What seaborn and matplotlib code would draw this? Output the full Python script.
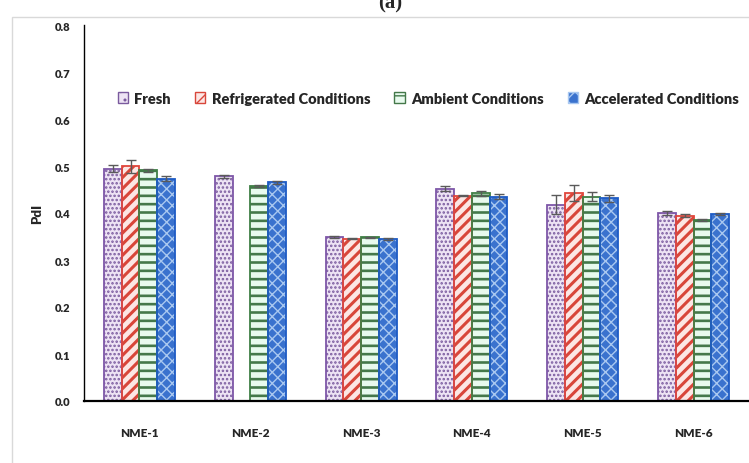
import numpy as np
import pandas as pd
import seaborn as sns
import matplotlib.pyplot as plt
from matplotlib.patches import Rectangle, Patch

# PdI values per formulation and storage condition
formulations = ["NME-1", "NME-2", "NME-3", "NME-4", "NME-5", "NME-6"]
conditions = ["Fresh", "Refrigerated Conditions", "Ambient Conditions", "Accelerated Conditions"]

pdi_fresh = [0.494, 0.478, 0.349, 0.452, 0.418, 0.400]
pdi_refrigerated = [0.499, np.nan, 0.345, 0.437, 0.442, 0.394]
pdi_ambient = [0.491, 0.457, 0.348, 0.442, 0.435, 0.385]
pdi_accelerated = [0.473, 0.465, 0.345, 0.435, 0.431, 0.398]

sd_fresh = [0.0075, 0.003, 0.002, 0.005, 0.020, 0.005]
sd_refrigerated = [0.014, np.nan, 0.001, 0.001, 0.017, 0.0035]
sd_ambient = [0.003, 0.002, 0.002, 0.005, 0.009, 0.002]
sd_accelerated = [0.005, 0.004, 0.002, 0.005, 0.007, 0.002]

yticks = [0.0, 0.1, 0.2, 0.3, 0.4, 0.5, 0.6, 0.7, 0.8]

values = [pdi_fresh, pdi_refrigerated, pdi_ambient, pdi_accelerated]
errors = [sd_fresh, sd_refrigerated, sd_ambient, sd_accelerated]

rows = []
for cond, vals, errs in zip(conditions, values, errors):
    for f, v, e in zip(formulations, vals, errs):
        if not np.isnan(v):
            rows.append({"Formulation": f, "Condition": cond, "PdI": v, "SD": e})
df = pd.DataFrame(rows)

# fill, hatch colour, outline colour, hatch pattern, hatch width
styles = {
    "Fresh": ("#EDE3F4", "#7A5A9E", "#7E57A8", "....", 1.2),
    "Refrigerated Conditions": ("#FCE6E4", "#D8463A", "#E0463C", "///", 2.2),
    "Ambient Conditions": ("#E8FAEE", "#44784A", "#3F7F45", "--", 1.9),
    "Accelerated Conditions": ("#3A72CE", "#A9C8F0", "#1E5BC4", "xxx", 1.0),
}

sns.set_theme(style="white")
plt.rcParams["font.family"] = ["Lato", "DejaVu Sans"]
plt.rcParams["font.weight"] = "heavy"
plt.rcParams["hatch.linewidth"] = 1.0

fig = plt.figure(figsize=(7.49, 4.64), dpi=100)
ax = fig.add_axes([84 / 749, 1 - 402 / 464, 665 / 749, 376 / 464])

sns.barplot(data=df, x="Formulation", y="PdI", hue="Condition",
            order=formulations, hue_order=conditions, errorbar=None,
            width=0.64, ax=ax, legend=False)

for cond, container in zip(conditions, ax.containers):
    fill, hcol, ecol, hatch, hlw = styles[cond]
    for bar in container:
        bar.set_facecolor(fill)
        bar.set_edgecolor(hcol)
        bar.set_hatch(hatch)
        bar.set_linewidth(0)
        if hasattr(bar, "set_hatch_linewidth"):
            bar.set_hatch_linewidth(hlw)
        outline = Rectangle(bar.get_xy(), bar.get_width(), bar.get_height(),
                            fill=False, edgecolor=ecol, linewidth=1.3, zorder=bar.get_zorder() + 0.1)
        ax.add_patch(outline)
        cx = bar.get_x() + bar.get_width() / 2
        idx = int(round(cx))
        err = errors[conditions.index(cond)][idx]
        ax.errorbar(cx, bar.get_height(), yerr=err, fmt="none", ecolor="#5A5A5A",
                    elinewidth=1.0, capsize=3.5, capthick=1.0, zorder=5)

ax.set_xlim(-0.5, 5.5)
ax.set_ylim(0, 0.8)
ax.set_yticks(yticks)
ax.set_yticklabels([f"{t:.1f}" for t in yticks])
ax.tick_params(axis="y", length=0, pad=10, labelsize=8)
ax.tick_params(axis="x", length=0, pad=19, labelsize=8.5)
for lab in ax.get_xticklabels() + ax.get_yticklabels():
    lab.set_fontweight("heavy")
ax.set_xlabel("")
ax.set_ylabel("PdI", fontsize=9.5, fontweight="heavy", labelpad=8)
sns.despine(ax=ax)
ax.spines["left"].set_color("black")
ax.spines["left"].set_linewidth(1.0)
ax.spines["bottom"].set_color("black")
ax.spines["bottom"].set_linewidth(1.6)
ax.grid(False)

handles = []
for cond in conditions:
    fill, hcol, ecol, hatch, hlw = styles[cond]
    handles.append(Patch(facecolor=fill, edgecolor=hcol, hatch=hatch[:2], linewidth=1.0))
fig.legend(handles, conditions, loc="center", bbox_to_anchor=(0.572, 1 - 99 / 464),
           ncol=4, frameon=False, prop={"weight": "heavy", "size": 10.5},
           handlelength=0.7, handleheight=0.7, handletextpad=0.45, columnspacing=1.65)

# panel label and outer frame
fig.text(0.521, 1 - 3 / 464, "(a)", ha="center", va="center", fontsize=15,
         fontweight="bold", family=["Liberation Serif", "DejaVu Serif"])
fig.add_artist(Rectangle((12 / 749, -0.1), 2.0, 1 - 18 / 464 + 0.1, transform=fig.transFigure,
                         fill=False, edgecolor="#D9D9D9", linewidth=1.0))

fig.savefig("out.png", dpi=100)
